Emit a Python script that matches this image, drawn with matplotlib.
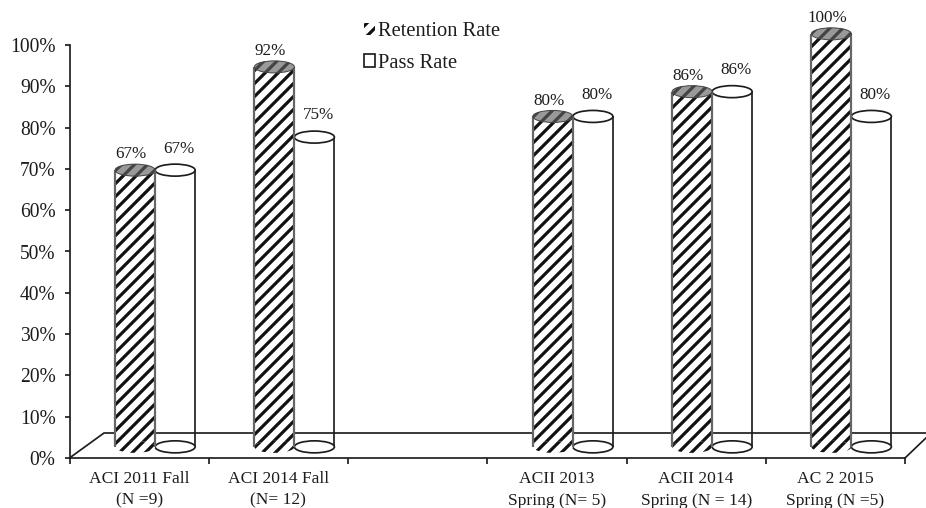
import matplotlib
matplotlib.use("Agg")
import matplotlib.pyplot as plt
from matplotlib.patches import Ellipse, Patch
from matplotlib.lines import Line2D

categories = ["ACI 2011 Fall\n(N =9)", "ACI 2014 Fall\n(N= 12)", "",
              "ACII 2013\nSpring (N= 5)", "ACII 2014\nSpring (N = 14)", "AC 2 2015\nSpring (N =5)"]
retention = [67, 92, None, 80, 86, 100]
pass_rate = [67, 75, None, 80, 86, 80]
yticks = list(range(0, 101, 10))

DPI = 78
W, H = 926, 508
px = lambda p: p * 72 / DPI
plt.rcParams["font.family"] = ["Liberation Serif", "DejaVu Serif"]
plt.rcParams["hatch.linewidth"] = px(3.2)

fig = plt.figure(figsize=((W + 0.01) / DPI, (H + 0.01) / DPI), dpi=DPI, facecolor="white")
ax = fig.add_axes([69.5 / W, (H - 458) / H, (905 - 69.5) / W, (458 - 45) / H])
ax.set_xlim(-0.5, 5.5)
ax.set_ylim(0, 100)

INK = "#1c1c1c"
bw = 40 / 139.25        # cylinder width, category units
shift = 16 / 139.25     # 3-D depth shift of the bars
floor = 2.7             # cylinder foot above the axis, y units
eh = 12 / 4.13          # ellipse height, y units
LW = px(1.7)
lab_dx = 4 / 139.25     # data labels sit slightly outward

def fx(x): return x / W
def fy(y): return 1 - y / H
fig.add_artist(Line2D([fx(69.5), fx(104), fx(926)], [fy(458), fy(433), fy(433)],
                      transform=fig.transFigure, color=INK, lw=LW, zorder=1))
fig.add_artist(Line2D([fx(905), fx(928)], [fy(458), fy(436)], transform=fig.transFigure,
                      color=INK, lw=LW, zorder=1))
ax.set_zorder(2)
ax.patch.set_alpha(0)

for i, (r, p) in enumerate(zip(retention, pass_rate)):
    if r is None:
        continue
    xr = i + shift - bw / 2
    xp = i + shift + bw / 2
    ax.vlines([xp - bw / 2, xp + bw / 2], floor, floor + p, color=INK, lw=LW, zorder=3)
    ax.add_patch(Ellipse((xp, floor), bw, eh, fc="white", ec=INK, lw=LW, zorder=3, clip_on=False))
    ax.add_patch(Ellipse((xp, floor + p), bw, eh, fc="white", ec=INK, lw=LW, zorder=3, clip_on=False))
    ax.bar(xr, r, bw, bottom=floor, facecolor="white", edgecolor="#111111", hatch="//",
           linewidth=0, zorder=4, clip_on=False)
    ax.add_patch(Ellipse((xr, floor), bw, eh, fc="white", ec="#111111", hatch="//", lw=0,
                         zorder=4, clip_on=False))
    ax.vlines([xr - bw / 2, xr + bw / 2], floor, floor + r, color="#666666", lw=px(2.2), zorder=5,
              clip_on=False)
    ax.add_patch(Ellipse((xr, floor + r), bw, eh, fc="#999999", ec="#444444", hatch="//", lw=px(1),
                         zorder=6, clip_on=False))
    ax.text(xr - lab_dx, floor + r + 1.9, f"{r}%", ha="center", va="bottom", fontsize=px(17), color=INK)
    ax.text(xp + lab_dx, floor + p + 3.3, f"{p}%", ha="center", va="bottom", fontsize=px(17), color=INK)

for s in ("top", "right"):
    ax.spines[s].set_visible(False)
for s in ("left", "bottom"):
    ax.spines[s].set_linewidth(LW)
    ax.spines[s].set_color(INK)

ax.set_yticks(yticks, [f"{v}%" for v in yticks], fontsize=px(19.5), color=INK)
ax.tick_params(axis="y", length=px(5), width=LW, color=INK, pad=px(9))
ax.set_xticks([i - 0.5 for i in range(7)], [""] * 7)
ax.tick_params(axis="x", which="major", length=px(6), width=LW, color=INK)
ax.set_xticks(range(6), categories, minor=True, fontsize=px(17.5), color=INK, linespacing=1.5)
ax.tick_params(axis="x", which="minor", length=0, pad=px(12.5))

handles = [Patch(facecolor="white", edgecolor="#111111", hatch="//", linewidth=0, label="Retention Rate"),
           Patch(facecolor="white", edgecolor=INK, linewidth=LW, label="Pass Rate")]
fig.legend(handles=handles, loc="upper left", bbox_to_anchor=(364 / W, 1 - 22 / H), frameon=False,
           fontsize=px(20.5), handlelength=0.55, handleheight=0.55, handletextpad=0.15,
           labelspacing=0.62, borderpad=0, borderaxespad=0, labelcolor=INK)

fig.savefig("out.png", dpi=DPI)
